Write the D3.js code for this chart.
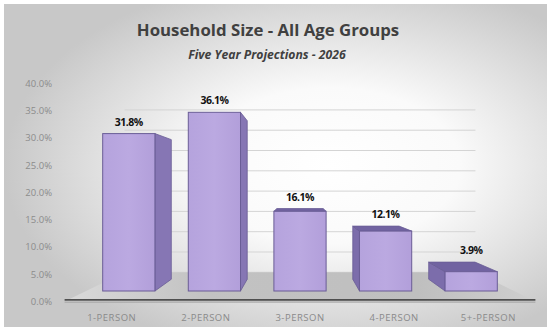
<!DOCTYPE html>
<html><head><meta charset="utf-8">
<script src="https://cdn.jsdelivr.net/npm/d3@7"></script>
<style>html,body{margin:0;padding:0;background:#fff;}svg{display:block;}</style>
</head><body>
<script>
const categories = ["1-PERSON", "2-PERSON", "3-PERSON", "4-PERSON", "5+-PERSON"];
const values = [31.8, 36.1, 16.1, 12.1, 3.9];
const valueLabels = ["31.8%", "36.1%", "16.1%", "12.1%", "3.9%"];
const yTicks = [0, 5, 10, 15, 20, 25, 30, 35, 40];
const titleText = "Household Size - All Age Groups";
const subtitleText = "Five Year Projections - 2026";

const W = 551, H = 331;
const svg = d3.select("body").append("svg").attr("width", W).attr("height", H);
const defs = svg.append("defs");

const bg = defs.append("radialGradient").attr("id", "bg").attr("cx", "60%").attr("cy", "50%").attr("r", "60%");
bg.append("stop").attr("offset", "0").attr("stop-color", "#ffffff");
bg.append("stop").attr("offset", "0.4").attr("stop-color", "#fafafa");
bg.append("stop").attr("offset", "1").attr("stop-color", "#c8c8c8");

const fl = defs.append("linearGradient").attr("id", "floor").attr("x1", "0").attr("x2", "1").attr("y1", "0").attr("y2", "0");
fl.append("stop").attr("offset", "0").attr("stop-color", "#dadada");
fl.append("stop").attr("offset", "0.3").attr("stop-color", "#c2c2c2");
fl.append("stop").attr("offset", "0.75").attr("stop-color", "#bfbfbf");
fl.append("stop").attr("offset", "1").attr("stop-color", "#cfcfcf");

const fr = defs.append("linearGradient").attr("id", "front").attr("x1", "0").attr("x2", "1").attr("y1", "0").attr("y2", "0");
fr.append("stop").attr("offset", "0").attr("stop-color", "#b5a3dd");
fr.append("stop").attr("offset", "0.5").attr("stop-color", "#bba9e1");
fr.append("stop").attr("offset", "1").attr("stop-color", "#b29fda");

svg.append("rect").attr("x", 0).attr("y", 0).attr("width", W).attr("height", H).attr("fill", "#ffffff");
svg.append("rect").attr("x", 4).attr("y", 4).attr("width", W - 8).attr("height", H - 8).attr("fill", "url(#bg)");

// scales (bar front plane)
const x = d3.scaleBand().domain(categories).range([86, 514]).paddingInner(0.39).paddingOuter(0.195);
const y = d3.scaleLinear().domain([0, 40]).range([291, 93]);
const VP = [300, 187];
const tBar = 0.113, tWall = 0.18, tFront = -0.1;
const proj = (px, py, t) => [px + (VP[0] - px) * t, py + (VP[1] - py) * t];

// gridlines on back wall
const [r0, r1] = x.range();
yTicks.forEach(v => {
  const a = proj(r0, y(v), tWall), b = proj(r1, y(v), tWall);
  svg.append("line").attr("x1", a[0]).attr("x2", b[0]).attr("y1", a[1]).attr("y2", b[1])
    .attr("stroke", "#d4d4d4").attr("stroke-width", 1);
});

// floor
const fPts = [proj(r0, y(0), tFront), proj(r1, y(0), tFront), proj(r1, y(0), tWall), proj(r0, y(0), tWall)];
svg.append("polygon").attr("points", fPts.map(p => p.join(",")).join(" ")).attr("fill", "url(#floor)");
// floor front edge
const fa = proj(r0, y(0), tFront), fb = proj(r1, y(0), tFront);
svg.append("line").attr("x1", fa[0]).attr("x2", fb[0]).attr("y1", fa[1] - 1.5).attr("y2", fb[1] - 1.5)
  .attr("stroke", "#4f4f4f").attr("stroke-width", 1.8);
svg.append("line").attr("x1", fa[0]).attr("x2", fb[0]).attr("y1", fa[1] + 0.7).attr("y2", fb[1] + 0.7)
  .attr("stroke", "#a0a0a0").attr("stroke-width", 1);

// bars
const bw = x.bandwidth();
const edge = "#6a5d96";
const g = svg.append("g");
categories.forEach((c, i) => {
  const v = values[i];
  const xl = x(c), xr = xl + bw, yt = y(v), yb = y(0);
  const cx = xl + bw / 2;
  const poly = pts => g.append("polygon").attr("points", pts.map(p => p.join(",")).join(" "));
  if (cx < VP[0] - 2) {
    poly([[xr, yt], proj(xr, yt, tBar), proj(xr, yb, tBar), [xr, yb]]).attr("fill", "#8676b4").attr("stroke", edge).attr("stroke-width", 0.8);
  } else if (cx > VP[0] + 2) {
    poly([[xl, yt], proj(xl, yt, tBar), proj(xl, yb, tBar), [xl, yb]]).attr("fill", "#7c6dab").attr("stroke", edge).attr("stroke-width", 0.8);
  }
  if (yt > VP[1]) {
    poly([[xl, yt], [xr, yt], proj(xr, yt, tBar), proj(xl, yt, tBar)]).attr("fill", "#7163a1").attr("stroke", edge).attr("stroke-width", 0.8);
  }
  g.append("rect").attr("x", xl).attr("y", yt).attr("width", bw).attr("height", yb - yt)
    .attr("fill", "url(#front)").attr("stroke", edge).attr("stroke-width", 1);
  svg.append("text").attr("x", cx).attr("y", Math.min(yt, proj(cx, yt, tBar)[1]) - 8)
    .attr("text-anchor", "middle").attr("font-family", "'Open Sans', sans-serif").attr("font-weight", "bold")
    .attr("font-size", 10.5).attr("letter-spacing", -0.5).attr("fill", "#111").text(valueLabels[i]);
});

// y tick labels (front plane)
yTicks.forEach(v => {
  const p = proj(r0, y(v), tFront);
  svg.append("text").attr("x", 52).attr("y", p[1]).attr("dy", "0.35em").attr("text-anchor", "end")
    .attr("font-family", "'Open Sans', sans-serif").attr("font-size", 9.5).attr("fill", "#8c8c8c")
    .text(d3.format(".1f")(v) + "%");
});

// category labels
categories.forEach(c => {
  const p = proj(x(c) + bw / 2, y(0), tFront);
  svg.append("text").attr("x", p[0]).attr("y", 321).attr("text-anchor", "middle")
    .attr("font-family", "'Open Sans', sans-serif").attr("font-size", 9.5).attr("letter-spacing", 0.5).attr("fill", "#8a8a8a")
    .text(c);
});

// titles
svg.append("text").attr("x", 268).attr("y", 36).attr("text-anchor", "middle")
  .attr("font-family", "'Open Sans', sans-serif").attr("font-weight", "bold").attr("font-size", 16.8)
  .attr("fill", "#404040").text(titleText);
svg.append("text").attr("x", 267).attr("y", 59).attr("text-anchor", "middle")
  .attr("font-family", "'Open Sans', sans-serif").attr("font-weight", "bold").attr("font-style", "italic").attr("font-size", 12.2)
  .attr("fill", "#404040").text(subtitleText);
</script>
</body></html>
